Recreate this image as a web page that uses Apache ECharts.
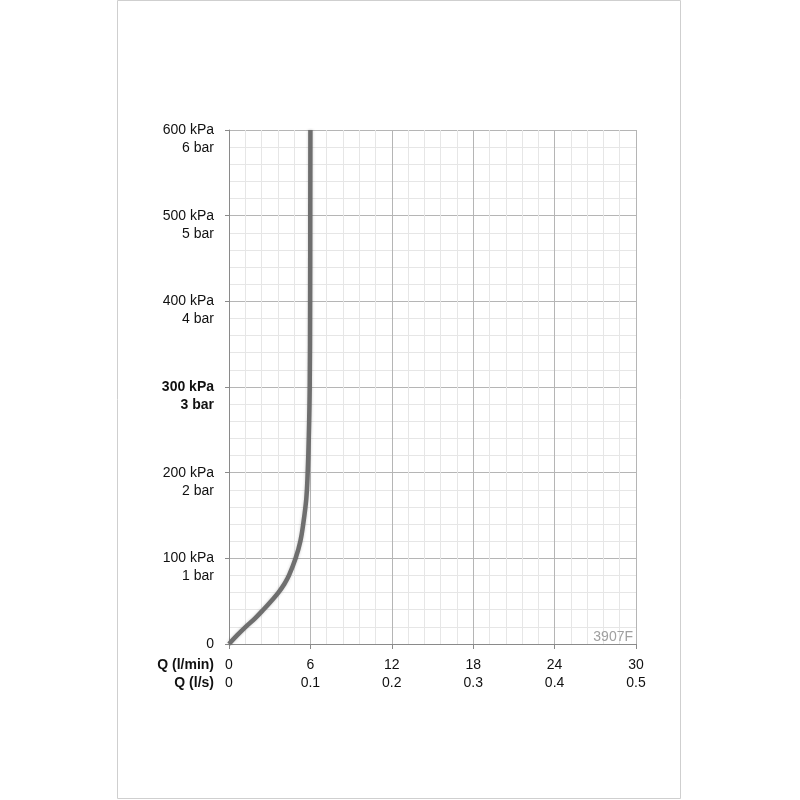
<!DOCTYPE html>
<html><head><meta charset="utf-8">
<script src="https://cdn.jsdelivr.net/npm/echarts@6/dist/echarts.min.js"></script>
<style>html,body{margin:0;padding:0;background:#fff}#c{width:800px;height:800px}</style>
</head><body><div id="c"></div>
<script>
// Flow Q (l/min) vs pressure P (kPa)
const flowLmin = [0, 0.59, 1.23, 1.92, 2.53, 3.1, 3.64, 4.08, 4.42, 4.91, 5.26, 5.47, 5.7, 5.8, 5.88, 5.95, 5.98, 5.99, 6.0];
const pressureKPa = [0, 10, 20, 30, 40, 50, 60, 70, 80, 100, 120, 140, 170, 200, 240, 300, 400, 500, 600];
const xTicksLmin = [0, 6, 12, 18, 24, 30];
const xTicksLs = ['0', '0.1', '0.2', '0.3', '0.4', '0.5'];
const yTicksKPa = [0, 100, 200, 300, 400, 500, 600];
const yTicksBar = ['0', '1', '2', '3', '4', '5', '6'];
const boldPressure = 300;
const codeLabel = '3907F';

const chart = echarts.init(document.getElementById('c'), null, {renderer: 'canvas'});
const font = '"Liberation Sans", Arial, Helvetica, sans-serif';
const curve = flowLmin.map((q, i) => [q, pressureKPa[i]]);

chart.setOption({
  animation: false,
  backgroundColor: '#fff',
  textStyle: {fontFamily: font},
  grid: {left: 229, right: 164, top: 130, bottom: 156, show: false},
  xAxis: {
    type: 'value', min: 0, max: 30, interval: 6,
    axisLine: {show: true, lineStyle: {color: '#8a8a8a', width: 1}},
    axisTick: {show: true, length: 5, lineStyle: {color: '#8a8a8a'}},
    minorTick: {show: false, splitNumber: 5},
    splitLine: {show: true, lineStyle: {color: '#b5b5b5', width: 1}},
    minorSplitLine: {show: true, lineStyle: {color: '#e6e6e6', width: 1}},
    axisLabel: {
      margin: 12, fontSize: 14, color: '#111', lineHeight: 18, fontFamily: font,
      formatter: v => { const i = xTicksLmin.indexOf(v); return i < 0 ? '' : v + '\n' + xTicksLs[i]; }
    }
  },
  yAxis: {
    type: 'value', min: 0, max: 600, interval: 100,
    axisLine: {show: true, lineStyle: {color: '#8a8a8a', width: 1}},
    axisTick: {show: true, length: 4, lineStyle: {color: '#8a8a8a'}},
    minorTick: {show: false, splitNumber: 5},
    splitLine: {show: true, lineStyle: {color: '#b5b5b5', width: 1}},
    minorSplitLine: {show: true, lineStyle: {color: '#e6e6e6', width: 1}},
    axisLabel: {
      margin: 15, fontSize: 14, color: '#111', lineHeight: 18, align: 'right',
      padding: [18, 0, 0, 0], fontFamily: font,
      rich: {
        n: {fontSize: 14, lineHeight: 18, color: '#111', fontFamily: font, align: 'right'},
        b: {fontSize: 14, lineHeight: 18, color: '#111', fontWeight: 'bold', fontFamily: font, align: 'right'}
      },
      formatter: v => {
        const i = yTicksKPa.indexOf(v);
        if (i < 0) return '';
        if (v === 0) return '{n|0}\n{n| }';
        const st = v === boldPressure ? 'b' : 'n';
        return '{' + st + '|' + v + ' kPa}\n{' + st + '|' + yTicksBar[i] + ' bar}';
      }
    }
  },
  series: [{
    type: 'line',
    data: curve,
    smooth: 0.4,
    showSymbol: false,
    symbol: 'none',
    lineStyle: {color: '#6e6e6e', width: 4.5, cap: 'butt', join: 'round', shadowColor: 'rgba(0,0,0,0.22)', shadowBlur: 3},
    z: 5
  }],
  graphic: [
    {type: 'rect', shape: {x: 117.5, y: 0.5, width: 563, height: 798}, style: {fill: null, stroke: '#cfcfcf', lineWidth: 1}, z: -10},
    {type: 'text', x: 214, y: 665, style: {text: 'Q (l/min)', font: 'bold 14px ' + font, fill: '#111', textAlign: 'right', textVerticalAlign: 'middle'}},
    {type: 'text', x: 214, y: 683, style: {text: 'Q (l/s)', font: 'bold 14px ' + font, fill: '#111', textAlign: 'right', textVerticalAlign: 'middle'}},
    {type: 'text', x: 633, y: 637, style: {text: codeLabel, font: '14px ' + font, fill: '#a0a0a0', textAlign: 'right', textVerticalAlign: 'middle'}, z: 10}
  ]
});
</script>
</body></html>
